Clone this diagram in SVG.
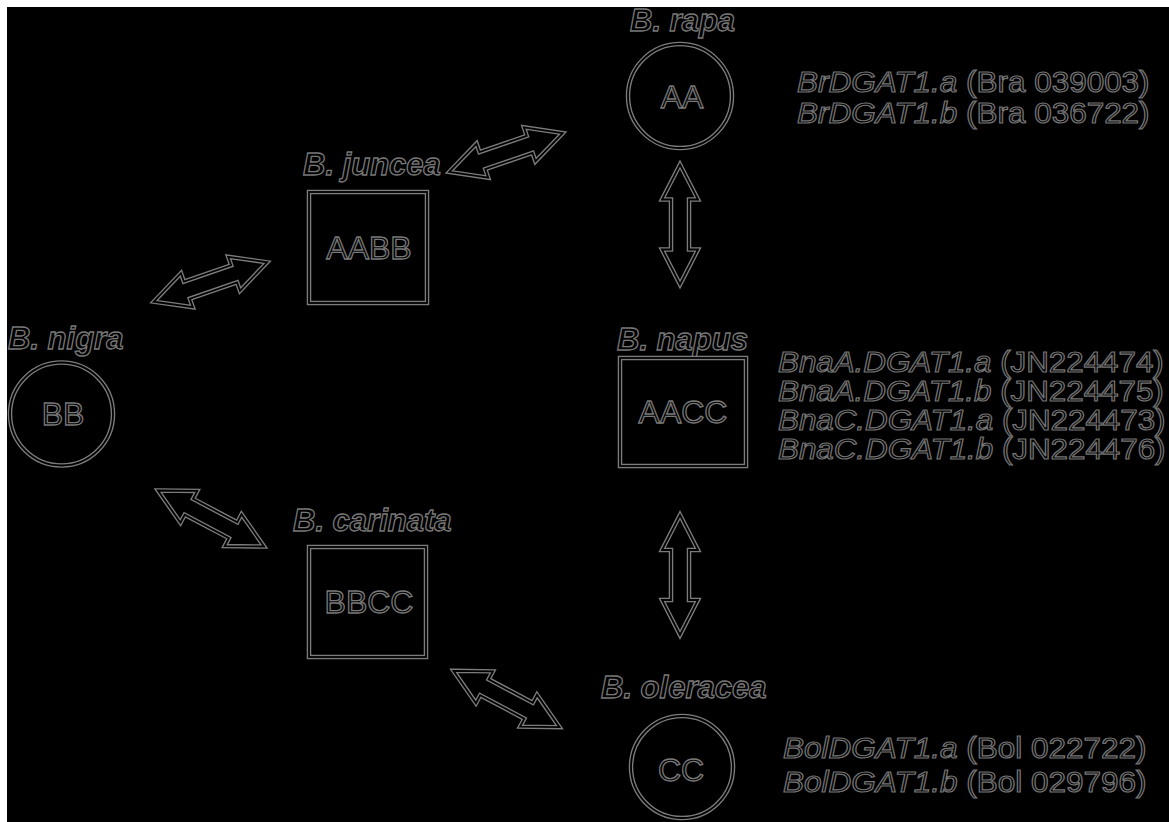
<svg xmlns="http://www.w3.org/2000/svg" xmlns:xlink="http://www.w3.org/1999/xlink" width="1169" height="822" viewBox="0 0 1169 822">
<style>
.o{fill:none;stroke:#7c7c7c;stroke-width:4.5}
.i{fill:none;stroke:#000;stroke-width:1.8}
.sp{font-family:"Liberation Sans",Arial,sans-serif;font-weight:bold;font-style:italic;font-size:31px;fill:#000;stroke:#7a7a7a;stroke-width:1.3;opacity:0.99}
.gn{font-family:"Liberation Sans",Arial,sans-serif;font-size:32px;fill:#000;stroke:#7a7a7a;stroke-width:1.3;text-anchor:middle;opacity:0.99}
.ge{font-family:"Liberation Sans",Arial,sans-serif;font-size:29px;fill:#000;stroke:#767676;stroke-width:1.2;opacity:0.99}
.it{font-style:italic}
</style>
<defs>
<path id="ap" d="M-60,0 L-25,-18 L-25,-9 L25,-9 L25,-18 L60,0 L25,18 L25,9 L-25,9 L-25,18 Z"/>
<g id="arr"><use xlink:href="#ap" class="o"/><use xlink:href="#ap" class="i"/></g>
</defs>
<rect x="0" y="0" width="1169" height="822" fill="#fff"/>
<rect x="7" y="7" width="1162" height="815" fill="#000"/>

<g id="connectors">
<use xlink:href="#arr" transform="translate(506,152.5) rotate(-18.9)"/>
<use xlink:href="#arr" transform="translate(210.5,282) rotate(-19.2)"/>
<use xlink:href="#arr" transform="translate(211,518.5) rotate(27.8)"/>
<use xlink:href="#arr" transform="translate(506.5,699) rotate(28)"/>
<use xlink:href="#arr" transform="translate(680,224.5) rotate(90)"/>
<use xlink:href="#arr" transform="translate(680,575) rotate(90)"/>
</g>

<g id="rapa">
<text class="sp" x="630" y="31">B. rapa</text>
<circle class="o" cx="680" cy="96" r="52"/><circle class="i" cx="680" cy="96" r="52"/>
<text class="gn" x="682" y="108">AA</text>
<g transform="translate(797,92) scale(1.085,1)"><text class="ge"><tspan class="it">BrDGAT1.a</tspan> (Bra 039003)</text></g>
<g transform="translate(797,123) scale(1.085,1)"><text class="ge"><tspan class="it">BrDGAT1.b</tspan> (Bra 036722)</text></g>
</g>

<g id="juncea">
<text class="sp" x="303" y="175">B. juncea</text>
<rect class="o" x="309" y="192" width="118" height="111"/><rect class="i" x="309" y="192" width="118" height="111"/>
<text class="gn" x="369" y="259">AABB</text>
</g>

<g id="nigra">
<text class="sp" x="8" y="349">B. nigra</text>
<circle class="o" cx="61.5" cy="414" r="51.5"/><circle class="i" cx="61.5" cy="414" r="51.5"/>
<text class="gn" x="63" y="425">BB</text>
</g>

<g id="napus">
<text class="sp" x="617" y="350">B. napus</text>
<rect class="o" x="620" y="358" width="126" height="108"/><rect class="i" x="620" y="358" width="126" height="108"/>
<text class="gn" x="683" y="423">AACC</text>
<g transform="translate(778,372) scale(1.08,1)"><text class="ge"><tspan class="it">BnaA.DGAT1.a</tspan> (JN224474)</text></g>
<g transform="translate(778,401) scale(1.08,1)"><text class="ge"><tspan class="it">BnaA.DGAT1.b</tspan> (JN224475)</text></g>
<g transform="translate(778,430) scale(1.08,1)"><text class="ge"><tspan class="it">BnaC.DGAT1.a</tspan> (JN224473)</text></g>
<g transform="translate(778,459) scale(1.08,1)"><text class="ge"><tspan class="it">BnaC.DGAT1.b</tspan> (JN224476)</text></g>
</g>

<g id="carinata">
<text class="sp" x="293" y="531">B. carinata</text>
<rect class="o" x="309" y="547" width="117" height="110"/><rect class="i" x="309" y="547" width="117" height="110"/>
<text class="gn" x="369" y="613">BBCC</text>
</g>

<g id="oleracea">
<text class="sp" x="601" y="698">B. oleracea</text>
<circle class="o" cx="682" cy="767" r="51"/><circle class="i" cx="682" cy="767" r="51"/>
<text class="gn" x="681" y="781">CC</text>
<g transform="translate(783,758) scale(1.086,1)"><text class="ge"><tspan class="it">BolDGAT1.a</tspan> (Bol 022722)</text></g>
<g transform="translate(783,792) scale(1.086,1)"><text class="ge"><tspan class="it">BolDGAT1.b</tspan> (Bol 029796)</text></g>
</g>
</svg>
